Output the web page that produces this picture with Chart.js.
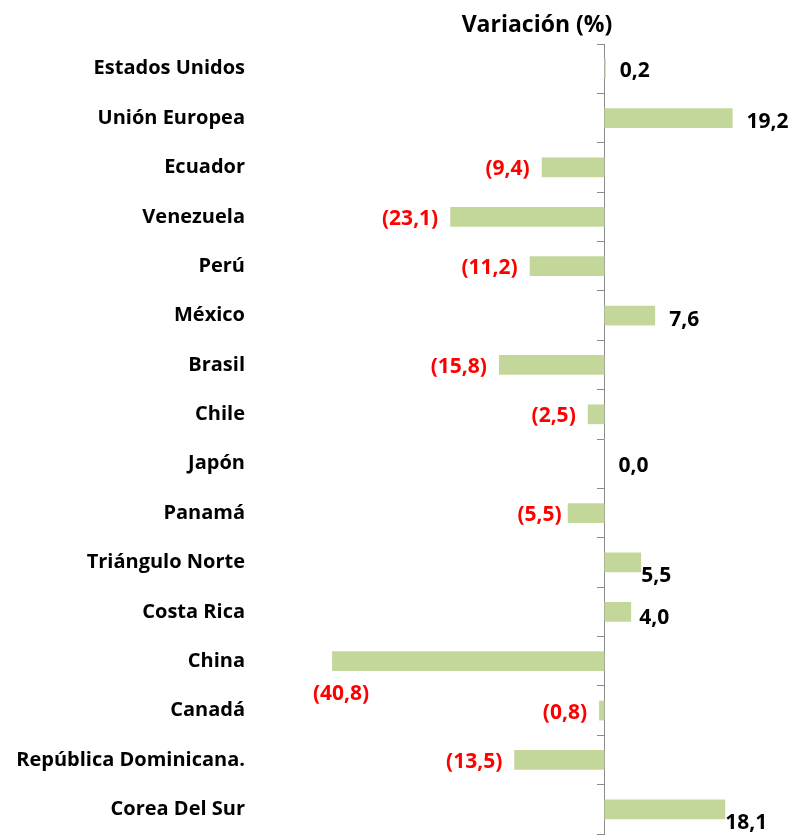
<!DOCTYPE html>
<html><head><meta charset="utf-8">
<script src="https://cdn.jsdelivr.net/npm/chart.js@4"></script>
<style>html,body{margin:0;padding:0;background:#fff}#wrap{width:792px;height:835px}</style>
</head><body><div id="wrap"><canvas id="c" width="792" height="835"></canvas></div>
<script>
const categories = ["Estados Unidos","Unión Europea","Ecuador","Venezuela","Perú","México","Brasil","Chile","Japón","Panamá","Triángulo Norte","Costa Rica","China","Canadá","República Dominicana.","Corea Del Sur"];
const variation = [0.2,19.2,-9.4,-23.1,-11.2,7.6,-15.8,-2.5,0.0,-5.5,5.5,4.0,-40.8,-0.8,-13.5,18.1];
const titleText = "Variación (%)";
// label nudges (style only): [dx, dy] relative to default placement
const labelNudge = [[0,0],[0,2],[0,0],[0,0],[0,0],[0,2],[0,0],[0,0],[0,0],[6,0],[-14,12],[-6,4],[0,0],[0,0],[0,0],[-14,12]];

function fmt(v){const s=Math.abs(v).toFixed(1).replace('.',',');return v<0?'('+s+')':s;}
const FONT = "'Open Sans', sans-serif";

const labelPlugin = {
  id:'valLabels',
  afterDatasetsDraw(chart){
    const ctx=chart.ctx; const meta=chart.getDatasetMeta(0);
    ctx.save(); ctx.font="bold 21px "+FONT; ctx.textBaseline='middle';
    meta.data.forEach((bar,i)=>{
      const v=variation[i]; const t=fmt(v); const n=labelNudge[i];
      let x, y=bar.y+n[1]+2;
      if(i===12){ // China: label below the bar end
        ctx.textAlign='center'; ctx.fillStyle='#ff0000';
        ctx.fillText(t, bar.x+9, bar.y+33); return;
      }
      if(v<0){ctx.textAlign='right';ctx.fillStyle='#ff0000';x=bar.x-12+n[0];}
      else {ctx.textAlign='left';ctx.fillStyle='#000000';x=Math.max(bar.x,chart.scales.x.getPixelForValue(0))+14+n[0];}
      ctx.fillText(t,x,y);
    });
    ctx.restore();
  }
};
const titlePlugin = {
  id:'topTitle',
  afterDraw(chart){
    const ctx=chart.ctx; ctx.save(); ctx.font="bold 23px "+FONT; ctx.fillStyle='#000';
    ctx.textAlign='center'; ctx.textBaseline='middle'; ctx.fillText(titleText,537,25); ctx.restore();
  }
};
function fixPad(s){s.paddingTop=0;s.paddingBottom=0;}

new Chart(document.getElementById('c'),{
  type:'bar',
  data:{labels:categories,datasets:[{data:variation,backgroundColor:'#c4d79b',borderWidth:0,categoryPercentage:0.8,barPercentage:0.5}]},
  options:{
    indexAxis:'y', responsive:false, animation:false,
    layout:{padding:{top:44,right:2,left:0,bottom:1}},
    plugins:{legend:{display:false},tooltip:{enabled:false},title:{display:false}},
    scales:{
      x:{display:false,min:-51.6,max:27.8},
      y:{position:'left',offset:true,
         grid:{display:false,drawTicks:false},border:{display:false},
         ticks:{padding:15,color:'#000',font:{family:FONT,weight:'bold',size:20}},
         afterFit(s){s.width=260;fixPad(s);}},
      yz:{type:'category',position:{x:0},offset:true,
         grid:{offset:true,drawOnChartArea:false,tickLength:7,color:'#8c8c8c'},
         border:{display:true,color:'#8c8c8c'},ticks:{display:false},
         afterFit(s){fixPad(s);}}
    }
  },
  plugins:[labelPlugin,titlePlugin]
});
</script></body></html>
